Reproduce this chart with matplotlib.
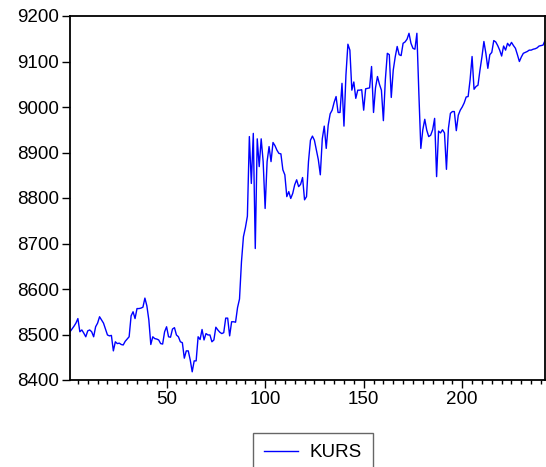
import numpy as np
import matplotlib
matplotlib.use("Agg")
import matplotlib.pyplot as plt
from matplotlib.ticker import MultipleLocator

plt.rcParams['font.family'] = ['Liberation Sans', 'DejaVu Sans']

# daily exchange rate series, observations 1..242
kurs = [
    8506, 8512, 8518, 8525, 8535, 8506, 8510, 8503, 8495, 8508,
    8510, 8506, 8495, 8517, 8525, 8539, 8532, 8525, 8512, 8499,
    8497, 8498, 8464, 8484, 8480, 8481, 8478, 8477, 8485, 8490,
    8495, 8541, 8550, 8535, 8557, 8557, 8558, 8560, 8580, 8563,
    8532, 8478, 8495, 8491, 8490, 8488, 8480, 8479, 8506, 8517,
    8495, 8494, 8512, 8515, 8499, 8495, 8484, 8482, 8448, 8464,
    8464, 8444, 8418, 8442, 8442, 8495, 8489, 8511, 8488, 8502,
    8499, 8499, 8484, 8488, 8516, 8510, 8505, 8502, 8504, 8536,
    8536, 8497, 8528, 8528, 8527, 8559, 8578, 8660, 8715, 8735,
    8760, 8935, 8832, 8942, 8689, 8930, 8869, 8930, 8880, 8777,
    8880, 8913, 8880, 8922, 8915, 8905, 8898, 8897, 8862, 8851,
    8803, 8814, 8799, 8810, 8829, 8840, 8825, 8830, 8845, 8796,
    8803, 8880, 8927, 8936, 8927, 8905, 8884, 8851, 8930, 8958,
    8909, 8960, 8985, 8993, 9010, 9023, 8988, 8988, 9052, 8958,
    9070, 9138, 9125, 9037, 9055, 9019, 9037, 9037, 9038, 8993,
    9040, 9041, 9042, 9089, 8988, 9042, 9067, 9050, 9037, 8970,
    9060, 9118, 9115, 9021, 9081, 9110, 9133, 9115, 9113, 9140,
    9143, 9149, 9162, 9140, 9129, 9127, 9162, 9030, 8909, 8950,
    8973, 8949, 8935, 8938, 8950, 8975, 8847, 8947, 8943, 8950,
    8943, 8863, 8953, 8986, 8990, 8990, 8948, 8982, 8993, 9000,
    9009, 9022, 9023, 9060, 9111, 9039, 9045, 9048, 9081, 9110,
    9144, 9118, 9085, 9115, 9120, 9146, 9143, 9135, 9125, 9112,
    9134, 9125, 9140, 9134, 9142, 9135, 9129, 9115, 9100, 9110,
    9118, 9120, 9122, 9125, 9125, 9127, 9128, 9130, 9134, 9135,
    9136, 9146,
]
obs = np.arange(1, len(kurs) + 1)

fig = plt.figure(figsize=(5.46, 4.67), dpi=100)
ax = fig.add_axes([70/546, 1 - 380/467, 475/546, 364/467])

ax.plot(obs, kurs, color='#0000ff', lw=1.0, label='KURS')

ax.set_xlim(1, len(kurs))
ax.set_ylim(8400, 9200)
ax.yaxis.set_major_locator(MultipleLocator(100))
ax.xaxis.set_major_locator(MultipleLocator(50))
ax.xaxis.set_minor_locator(MultipleLocator(5))

ax.tick_params(axis='both', which='major', labelsize=13.5, length=6, width=1.0, color='black', pad=2)
ax.tick_params(axis='x', which='minor', length=3, width=1.0)
for s in ax.spines.values():
    s.set_linewidth(1.3)
    s.set_color('black')

leg = fig.legend(loc='upper center', bbox_to_anchor=(313/546, 1 - 433/467),
                 borderaxespad=0, fontsize=13.5, frameon=True, fancybox=False,
                 handlelength=1.8, borderpad=0.6, handletextpad=0.6)
leg.get_frame().set_edgecolor('#404040')
leg.get_frame().set_linewidth(1.0)

plt.savefig('out.png', dpi=100)
